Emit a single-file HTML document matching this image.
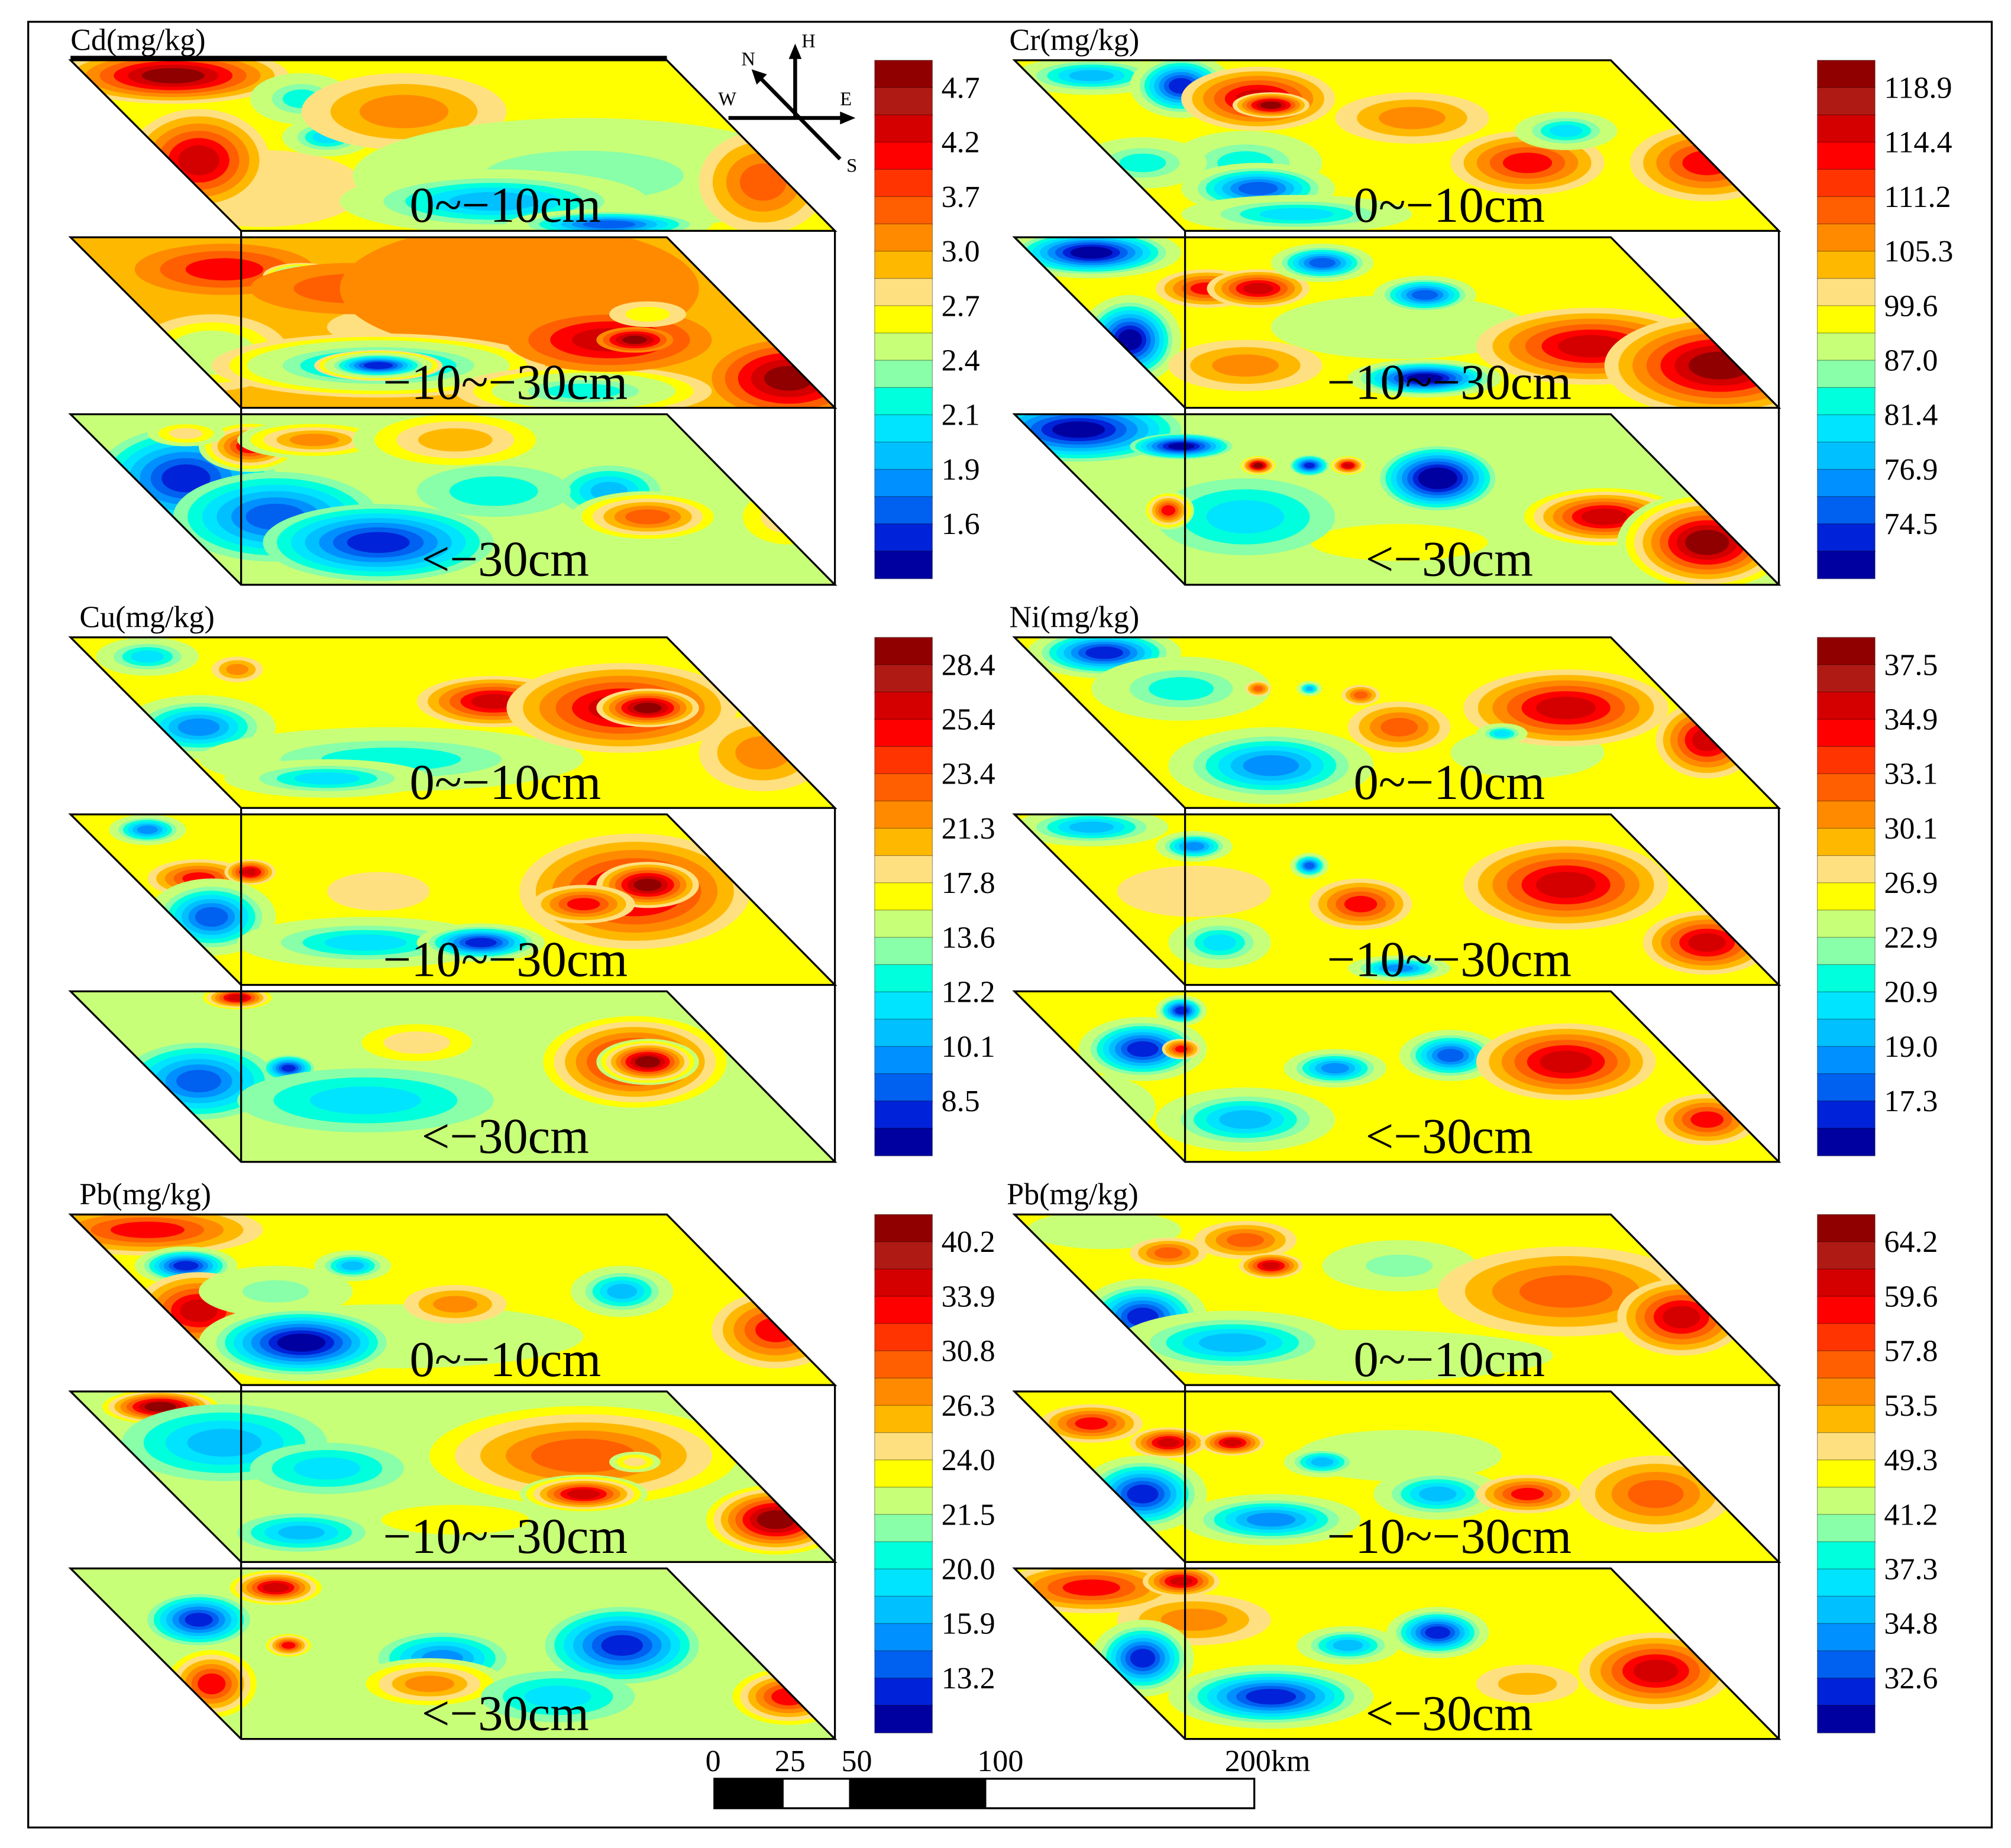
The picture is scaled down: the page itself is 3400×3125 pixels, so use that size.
<!DOCTYPE html>
<html><head><meta charset="utf-8"><style>
html,body{margin:0;padding:0;background:#fff;}
svg{display:block;font-family:"Liberation Serif",serif;}
</style></head><body>
<svg id="fig" width="3400" height="3125" viewBox="0 0 1568 1441" preserveAspectRatio="none" xmlns="http://www.w3.org/2000/svg">
<rect x="22" y="17" width="1531" height="1408" fill="#fff" stroke="#000" stroke-width="1.5"/>
<g id="maps"></g>
<g id="bars"></g>
<g stroke="#000" stroke-width="3" fill="none">
<line x1="620" y1="92" x2="620" y2="42"/><polygon points="620,34 615,46 625,46" fill="#000" stroke="none"/>
<line x1="568" y1="92" x2="658" y2="92"/><polygon points="667,92 655,87 655,97" fill="#000" stroke="none"/>
<line x1="592" y1="60" x2="655" y2="124"/><polygon points="586,54 590,66 598,58" fill="#000" stroke="none"/>
</g>
<g font-size="15">
<text x="625" y="37">H</text><text x="655" y="82">E</text><text x="560" y="82">W</text><text x="578" y="51">N</text><text x="660" y="134">S</text>
</g>
<g>
<rect x="557" y="1387" width="421" height="23" fill="#fff" stroke="#000" stroke-width="1.5"/>
<rect x="557" y="1387" width="54" height="23" fill="#000"/>
<rect x="662" y="1387" width="107" height="23" fill="#000"/>
<g font-size="24"><text x="550" y="1381">0</text><text x="604" y="1381">25</text><text x="656" y="1381">50</text><text x="762" y="1381">100</text><text x="955" y="1381">200km</text></g>
</g>
</svg>
<script>
const NS="http://www.w3.org/2000/svg";
const palette=["#0000a0","#0022d8","#0060f0","#0090ff","#00c0ff","#00e4ff","#00ffdc","#88ffa8","#c8ff78","#ffff00","#ffe080","#ffb800","#ff8a00","#ff5f00","#ff3400","#ff0000","#d40000","#b01a14","#900000"];
const levelMap=[0,0,1,2,3,4,5,6,7,8,8,9,10,11,12,13,15,16,18];
const depthLabels=["0~\u221210cm","\u221210~\u221230cm","<\u221230cm"];
// colorbar tick labels
const cdTicks=["4.7","4.2","3.7","3.0","2.7","2.4","2.1","1.9","1.6"];
const crTicks=["118.9","114.4","111.2","105.3","99.6","87.0","81.4","76.9","74.5"];
const cuTicks=["28.4","25.4","23.4","21.3","17.8","13.6","12.2","10.1","8.5"];
const niTicks=["37.5","34.9","33.1","30.1","26.9","22.9","20.9","19.0","17.3"];
const pbTicks=["40.2","33.9","30.8","26.3","24.0","21.5","20.0","15.9","13.2"];
const pb2Ticks=["64.2","59.6","57.8","53.5","49.3","41.2","37.3","34.8","32.6"];
// layer base levels
const cdBase=[11,13,9], crBase=[11,11,9], cuBase=[11,11,9], niBase=[11,11,11], pbBase=[11,9,9], pb2Base=[11,11,11];
// blobs: [dx, dy, rx, ry, peakLevel]
const cdL1=[[150,100,80,30,12],[80,12,90,22,18],[100,78,55,40,17],[180,30,40,20,7],[200,60,35,15,6],[260,40,80,30,14],[400,90,180,45,8],[330,110,120,25,5],[420,128,80,12,3],[540,95,50,40,15]];
const cdL2=[[300,70,100,20,12],[120,25,70,20,16],[180,30,30,10,5],[220,40,80,20,15],[350,40,140,50,14],[110,90,60,30,9],[240,100,130,25,5],[240,100,50,12,2],[400,120,100,20,7],[420,80,80,25,17],[440,80,30,10,18],[450,60,30,10,11],[560,110,60,30,18]];
const cdL3=[[90,50,70,40,2],[160,80,80,35,3],[240,100,90,30,2],[140,25,40,20,16],[190,20,60,15,14],[300,20,80,25,13],[420,60,40,20,5],[450,80,60,20,15],[560,80,50,30,12],[330,60,60,20,7],[90,15,30,10,12]];
const crL1=[[300,80,100,25,11],[60,12,60,15,5],[130,20,40,25,2],[190,30,60,25,17],[200,35,30,10,18],[180,80,60,25,7],[310,45,60,20,14],[400,80,60,25,16],[430,55,40,15,6],[540,80,60,30,16],[100,80,50,20,7],[190,100,60,20,3],[220,120,90,15,6]];
const crL2=[[300,70,100,25,9],[60,12,70,20,1],[90,80,40,35,1],[150,40,40,15,16],[190,40,40,15,17],[180,100,60,20,14],[320,45,40,15,3],[320,110,60,15,1],[450,85,90,30,17],[550,100,90,40,18],[240,20,40,15,3]];
const crL3=[[300,100,120,25,11],[50,12,80,25,1],[130,25,40,10,1],[190,40,15,8,18],[230,40,15,8,2],[260,40,15,8,17],[330,50,45,25,0],[180,80,70,30,6],[460,80,70,25,17],[540,100,70,40,18],[120,75,20,15,16]];
const cuL1=[[60,15,40,15,6],[130,25,20,10,14],[100,70,60,25,4],[250,95,150,25,7],[330,50,60,20,17],[430,55,90,35,17],[450,55,40,15,18],[540,90,50,30,14],[200,110,80,15,6]];
const cuL2=[[240,60,40,15,12],[60,12,30,12,4],[100,50,40,15,16],[140,45,20,10,17],[110,80,50,30,3],[230,100,100,20,6],[320,100,50,15,2],[440,60,90,45,17],[450,55,40,18,18],[400,70,40,15,16]];
const cuL3=[[270,40,60,20,12],[350,90,60,20,10],[130,5,30,10,17],[100,70,60,30,3],[170,60,20,10,2],[230,85,100,25,6],[440,55,80,40,17],[450,55,40,18,18]];
const niL1=[[400,90,60,20,9],[70,12,60,20,2],[130,40,70,25,7],[190,40,10,6,15],[230,40,10,6,5],[270,45,15,8,15],[300,70,40,20,15],[200,100,80,30,4],[430,55,80,30,17],[540,80,40,30,17],[380,75,20,8,6]];
const niL2=[[140,60,60,20,12],[60,10,60,15,5],[140,25,30,12,4],[230,40,15,10,3],[270,70,40,20,16],[160,100,40,20,6],[430,55,80,35,17],[540,100,50,25,17],[300,120,40,10,4]];
const niL3=[[60,90,50,25,8],[130,15,20,12,2],[100,45,50,25,2],[130,45,15,8,16],[250,60,40,15,4],[340,50,40,20,3],[430,55,70,30,17],[180,100,70,25,5],[540,100,40,20,16]];
const pbL1=[[250,95,150,25,9],[60,12,90,20,16],[90,40,40,15,2],[100,75,50,30,17],[160,60,60,20,8],[220,40,30,12,5],[180,100,80,30,1],[300,70,40,15,14],[430,60,40,20,5],[550,90,50,30,16]];
const pbL2=[[300,100,100,20,11],[70,12,50,15,18],[120,40,80,30,5],[200,60,60,20,6],[400,50,140,45,15],[400,80,50,15,17],[440,55,20,8,12],[550,100,60,30,18],[180,110,50,15,5]];
const pbL3=[[160,15,40,15,17],[100,40,40,20,2],[110,90,40,30,16],[170,60,20,10,16],[290,70,50,20,4],[280,90,60,20,14],[430,60,60,30,2],[560,100,50,25,16],[380,100,60,20,6]];
const pb2L1=[[270,110,150,20,9],[70,12,60,15,9],[120,30,30,12,15],[180,20,40,15,15],[200,40,25,10,17],[100,80,50,30,2],[170,100,90,25,5],[300,40,60,20,8],[430,60,100,35,15],[520,80,50,30,17]];
const pb2L2=[[300,50,80,20,9],[60,25,40,15,16],[120,40,30,12,17],[170,40,25,10,17],[240,55,30,12,5],[100,80,50,30,2],[200,100,70,20,4],[330,80,50,20,5],[400,80,40,15,16],[500,80,60,30,15]];
const pb2L3=[[140,40,60,20,14],[60,15,70,20,16],[130,10,30,12,17],[100,70,40,30,2],[200,100,80,25,2],[260,60,40,15,5],[330,50,40,20,2],[500,80,60,30,17],[400,90,40,15,13]];

const panels=[
 {name:"cd",title:"Cd(mg/kg)",tx:55,x0:55,y0:47,base:cdBase,layers:[cdL1,cdL2,cdL3],ticks:cdTicks,bx:682},
 {name:"cr",title:"Cr(mg/kg)",tx:787,x0:791,y0:47,base:crBase,layers:[crL1,crL2,crL3],ticks:crTicks,bx:1417},
 {name:"cu",title:"Cu(mg/kg)",tx:62,x0:55,y0:497,base:cuBase,layers:[cuL1,cuL2,cuL3],ticks:cuTicks,bx:682},
 {name:"ni",title:"Ni(mg/kg)",tx:787,x0:791,y0:497,base:niBase,layers:[niL1,niL2,niL3],ticks:niTicks,bx:1417},
 {name:"pb",title:"Pb(mg/kg)",tx:62,x0:55,y0:947,base:pbBase,layers:[pbL1,pbL2,pbL3],ticks:pbTicks,bx:682},
 {name:"pb-2",title:"Pb(mg/kg)",tx:785,x0:791,y0:947,base:pb2Base,layers:[pb2L1,pb2L2,pb2L3],ticks:pb2Ticks,bx:1417}
];
const W=465,SK=133,H=133,GAP=138;
const maps=document.getElementById('maps'), bars=document.getElementById('bars');
function mk(tag,attrs,parent){const e=document.createElementNS(NS,tag);for(const k in attrs)e.setAttribute(k,attrs[k]);parent.appendChild(e);return e;}
panels.forEach((p,pi)=>{
  const g=mk('g',{},maps);
  
  
  const t=mk('text',{x:p.tx,y:p.y0-8,'font-size':24},g);t.textContent=p.title;
  
  
  p.layers.forEach((blobs,li)=>{
    const y0=p.y0+li*GAP, x0=p.x0;
    const pts=`${x0},${y0} ${x0+W},${y0} ${x0+SK+463},${y0+H} ${x0+SK},${y0+H}`;
    const cid=`clip-${pi}-${li}`;
    const cp=mk('clipPath',{id:cid},g);mk('polygon',{points:pts},cp);
    const lg=mk('g',{'clip-path':`url(#${cid})`},g);
    
    
    const B=p.base[li];
    mk('polygon',{points:pts,fill:palette[levelMap[B]]},lg);
    blobs.forEach(b=>{
      const [dx,dy,rx,ry,P]=b;const n=Math.abs(P-B),s=P>B?1:-1;
      for(let k=1;k<=n;k++){
        const f=1-(k-1)/n*0.85;
        const e=mk('ellipse',{cx:x0+dx,cy:y0+dy,rx:rx*f,ry:ry*f,fill:palette[levelMap[B+s*k]]},lg);
        
        
      }
    });
    mk('polygon',{points:pts,fill:'none',stroke:'#000','stroke-width':1.5},g);
    const dl=mk('text',{x:x0+SK+206,y:y0+H-7,'font-size':39,'text-anchor':'middle'},g);
    dl.textContent=depthLabels[li];
    
    
  });
  const yb=p.y0+H, ye=p.y0+2*GAP+H;
  mk('line',{x1:p.x0+SK,y1:yb,x2:p.x0+SK,y2:ye,stroke:'#000','stroke-width':1.5},g);
  mk('line',{x1:p.x0+SK+463,y1:yb,x2:p.x0+SK+463,y2:ye,stroke:'#000','stroke-width':1.5},g);
  const cb=mk('g',{},bars);
  
  
  const bh=404/19;
  for(let i=0;i<19;i++){
    mk('rect',{x:p.bx,y:p.y0+i*bh,width:45,height:bh+0.3,fill:palette[18-i],stroke:'rgba(0,0,0,0.35)','stroke-width':0.6},cb);
  }
  p.ticks.forEach((tk,i)=>{
    const tt=mk('text',{x:p.bx+52,y:p.y0+(2*i+1)*bh+8,'font-size':24},cb);
    tt.textContent=tk;
    
    
  });
});
mk('line',{x1:55,y1:45,x2:520,y2:45,stroke:'#000','stroke-width':3},maps);
</script>
</body></html>
